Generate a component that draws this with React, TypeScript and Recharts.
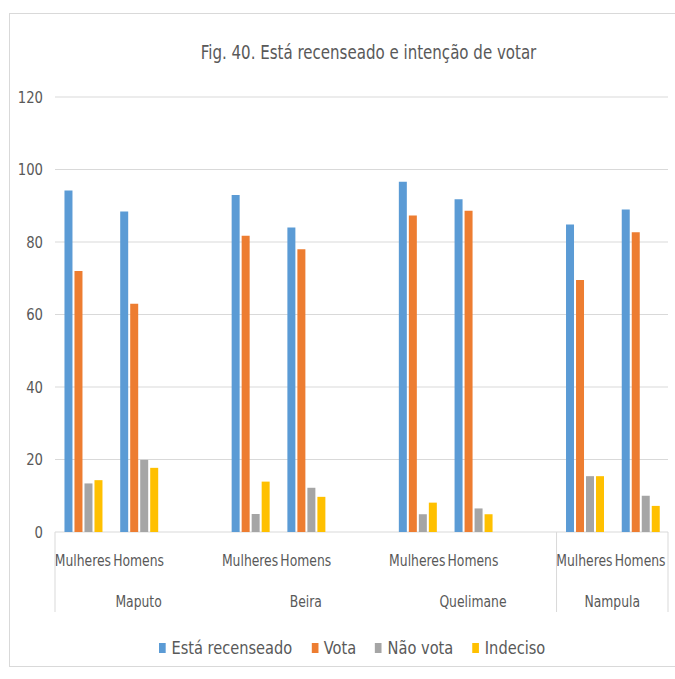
import { BarChart, Bar, XAxis, YAxis, CartesianGrid, Legend } from "recharts";

const cities = ["Maputo", "Beira", "Quelimane", "Nampula"];
const genders = ["Mulheres", "Homens"];

// values per city/gender, in the order Maputo M, Maputo H, Beira M, Beira H, ...
const recenseado = [94.2, 88.4, 93, 84, 96.6, 91.8, 84.8, 89];
const vota = [72, 63, 81.7, 78, 87.3, 88.6, 69.5, 82.7];
const naoVota = [13.4, 19.9, 5, 12.2, 4.9, 6.5, 15.4, 10];
const indeciso = [14.3, 17.7, 13.9, 9.7, 8.1, 4.9, 15.4, 7.2];

const yTicks = [0, 20, 40, 60, 80, 100, 120];

const title = "Fig. 40. Está recenseado e intenção de votar";

const series = [
  { key: "recenseado", name: "Está recenseado", color: "#5B9BD5" },
  { key: "vota", name: "Vota", color: "#ED7D31" },
  { key: "naoVota", name: "Não vota", color: "#A5A5A5" },
  { key: "indeciso", name: "Indeciso", color: "#FFC000" },
];

interface Row {
  key: string;
  sub: string;
  city: string;
  cityIndex: number;
  first: boolean;
  groupSize: number;
  recenseado?: number;
  vota?: number;
  naoVota?: number;
  indeciso?: number;
}

// Excel-style layout: an empty category between cities
const rows: Row[] = [];
cities.forEach((city, ci) => {
  const last = ci === cities.length - 1;
  const groupSize = genders.length + (last ? 0 : 1);
  genders.forEach((g, gi) => {
    const i = ci * genders.length + gi;
    rows.push({
      key: `${city}-${g}`,
      sub: g,
      city,
      cityIndex: ci,
      first: gi === 0,
      groupSize,
      recenseado: recenseado[i],
      vota: vota[i],
      naoVota: naoVota[i],
      indeciso: indeciso[i],
    });
  });
  if (!last) {
    rows.push({ key: `${city}-gap`, sub: "", city, cityIndex: ci, first: false, groupSize });
  }
});

const W = 675;
const H = 679;
const PLOT_LEFT = 55;
const PLOT_RIGHT = 668;
const PLOT_TOP = 97;
const PLOT_BOTTOM = 532;
const FONT = '"DejaVu Sans Condensed", "DejaVu Sans", sans-serif';
const TEXT = "#595959";
const LINE = "#D9D9D9";
const NARROW = 0.86; // the source font is a narrow one

const band = (PLOT_RIGHT - PLOT_LEFT) / rows.length;

function NarrowText({ x, y, children }: { x: number; y: number; children: string }) {
  return (
    <g transform={`translate(${x},${y}) scale(${NARROW},1)`}>
      <text x={0} y={0} textAnchor="middle" fill={TEXT} fontSize={16} fontFamily={FONT}>
        {children}
      </text>
    </g>
  );
}

function CategoryTick(props: any) {
  const { x, payload } = props;
  const row = rows[payload.index];
  if (!row) return null;
  const isLastRow = payload.index === rows.length - 1;
  const edgeGroup = row.cityIndex === 0 || row.cityIndex === cities.length - 1;
  return (
    <g>
      {row.sub && <NarrowText x={x} y={PLOT_BOTTOM + 34}>{row.sub}</NarrowText>}
      {row.first && (
        <NarrowText x={x + ((row.groupSize - 1) * band) / 2} y={PLOT_BOTTOM + 75}>
          {row.city}
        </NarrowText>
      )}
      {row.first && edgeGroup && (
        <line x1={x - band / 2} x2={x - band / 2} y1={PLOT_BOTTOM} y2={PLOT_BOTTOM + 80} stroke={LINE} />
      )}
      {isLastRow && (
        <line x1={x + band / 2} x2={x + band / 2} y1={PLOT_BOTTOM} y2={PLOT_BOTTOM + 80} stroke={LINE} />
      )}
    </g>
  );
}

function ValueTick(props: any) {
  const { x, y, payload } = props;
  return (
    <g transform={`translate(${x},${y}) scale(0.92,1)`}>
      <text x={0} y={0} dy="0.355em" textAnchor="end" fill={TEXT} fontSize={16} fontFamily={FONT}>
        {payload.value}
      </text>
    </g>
  );
}

function LegendContent() {
  return (
    <div
      style={{
        display: "flex",
        alignItems: "center",
        fontFamily: FONT,
        fontSize: 17,
        color: TEXT,
        transform: "scaleX(0.955)",
        transformOrigin: "0 0",
        whiteSpace: "nowrap",
      }}
    >
      {series.map((s) => (
        <div key={s.key} style={{ display: "flex", alignItems: "center", marginRight: 20 }}>
          <span style={{ width: 7, height: 10, background: s.color, marginRight: 6, display: "inline-block" }} />
          <span>{s.name}</span>
        </div>
      ))}
    </div>
  );
}

export default function App() {
  return (
    <div style={{ position: "absolute", left: 0, top: 0, width: W, height: H, background: "#fff" }}>
      <div
        style={{
          position: "absolute",
          left: 9,
          top: 13,
          width: W - 9,
          height: 654,
          borderLeft: `1px solid ${LINE}`,
          borderTop: `1px solid ${LINE}`,
          borderBottom: `1px solid ${LINE}`,
          boxSizing: "border-box",
        }}
      />
      <div
        style={{
          position: "absolute",
          left: 0,
          width: W,
          top: 41,
          paddingLeft: 62,
          textAlign: "center",
          boxSizing: "border-box",
          fontFamily: FONT,
          fontSize: 19,
          color: TEXT,
          whiteSpace: "nowrap",
          transform: "scaleX(0.88)",
          transformOrigin: "369px 0",
        }}
      >
        {title}
      </div>
      <BarChart
        width={W}
        height={H}
        data={rows}
        margin={{ top: PLOT_TOP, right: W - PLOT_RIGHT, left: 20, bottom: H - PLOT_BOTTOM - 90 }}
        barCategoryGap="17%"
        barGap={2}
        style={{ position: "absolute", left: 0, top: 0 }}
      >
        <CartesianGrid vertical={false} stroke={LINE} />
        <XAxis
          dataKey="key"
          height={90}
          axisLine={false}
          tickLine={false}
          interval={0}
          tick={<CategoryTick />}
        />
        <YAxis
          width={35}
          domain={[0, 120]}
          ticks={yTicks}
          axisLine={false}
          tickLine={false}
          tickMargin={6}
          tick={<ValueTick />}
        />
        <Legend
          layout="horizontal"
          verticalAlign="middle"
          align="center"
          wrapperStyle={{ top: 638, left: 159, width: 460 }}
          content={<LegendContent />}
        />
        {series.map((s) => (
          <Bar key={s.key} dataKey={s.key} name={s.name} fill={s.color} isAnimationActive={false} />
        ))}
      </BarChart>
    </div>
  );
}
